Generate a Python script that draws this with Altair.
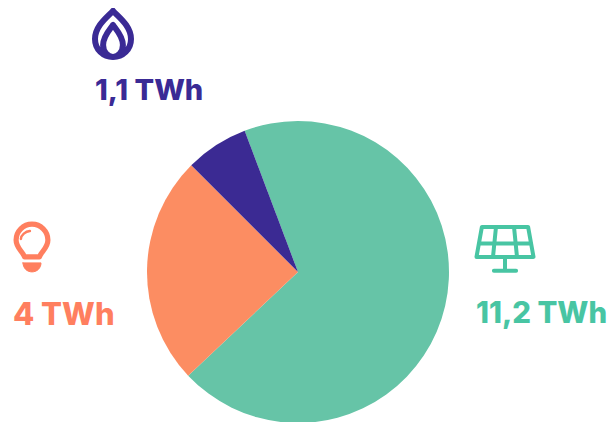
import altair as alt
import pandas as pd
import math

sources = ["Solar", "Electricity", "Gas"]
values = [11.2, 4.0, 1.1]
slice_colors = ["#66c4a7", "#fc8d62", "#3b2a93"]
labels = ["11,2 TWh", "4 TWh", "1,1 TWh"]
label_colors = ["#48c5a3", "#ff7f5f", "#3a2a95"]

drop_path = ("M0,-0.74 C-0.15,-0.56 -0.6,-0.25 -0.6,0.2 C-0.6,0.55 -0.33,0.8 0,0.8 "
             "C0.33,0.8 0.6,0.55 0.6,0.2 C0.6,-0.25 0.15,-0.56 0,-0.74 Z "
             "M0,-0.27 C-0.1,-0.12 -0.33,0.1 -0.33,0.4 C-0.33,0.62 -0.18,0.8 0,0.8 "
             "C0.18,0.8 0.33,0.62 0.33,0.4 C0.33,0.1 0.1,-0.12 0,-0.27 Z")
bulb_path = ("M-0.25,0.23 C-0.3,0.05 -0.53,-0.05 -0.53,-0.33 A0.53,0.53 0 1 1 0.53,-0.33 "
             "C0.53,-0.05 0.3,0.05 0.25,0.23 Z")
bulb_glint = "M-0.37,-0.37 C-0.36,-0.5 -0.22,-0.62 -0.07,-0.63"
bulb_cap = "M-0.3,0.43 H0.3 C0.3,0.62 0.15,0.73 0,0.73 C-0.15,0.73 -0.3,0.62 -0.3,0.43 Z"
panel_path = ("M-0.77,-0.77 H0.77 L0.95,0.23 H-0.95 Z M-0.86,-0.22 H0.86 "
              "M-0.3,-0.77 L-0.4,0.23 M0.3,-0.77 L0.4,0.23 M0,0.23 V0.69 M-0.37,0.69 H0.37")

start = math.radians(339.3)
df = pd.DataFrame({"source": sources, "value": values, "order": [0, 1, 2]})

pie = alt.Chart(df).mark_arc(outerRadius=151, stroke=None).encode(
    theta=alt.Theta("value:Q", stack=True,
                    scale=alt.Scale(range=[start, start + 2 * math.pi])),
    order=alt.Order("order:Q"),
    color=alt.Color("source:N", legend=None,
                    scale=alt.Scale(domain=sources, range=slice_colors)),
    x=alt.value(290), y=alt.value(264),
)

base = alt.Chart(pd.DataFrame({"a": [0]}))


def icon(path, color, cx, cy, sw, filled=False, cap="round"):
    kw = dict(shape=path, size=3600, strokeWidth=sw, strokeCap=cap, strokeJoin="round", opacity=1)
    if filled:
        kw.update(filled=True, fill=color, stroke=color)
    else:
        kw.update(filled=False, stroke=color)
    return base.mark_point(**kw).encode(x=alt.value(cx - 8), y=alt.value(cy - 8))


def label(text, color, x, y, size):
    return base.mark_text(text=text, color=color, font="Inter", fontSize=size, fontWeight=800,
                          align="left", baseline="alphabetic").encode(
        x=alt.value(x - 8), y=alt.value(y - 8))


chart = alt.layer(
    pie,
    icon(drop_path, label_colors[2], 113, 33, 6),
    icon(bulb_path, label_colors[1], 32, 250, 5.2),
    icon(bulb_glint, label_colors[1], 32, 250, 2.5),
    icon(bulb_cap, label_colors[1], 32, 250, 1, filled=True),
    icon(panel_path, label_colors[0], 505, 250, 4),
    label(labels[2], label_colors[2], 95, 100, 29),
    label(labels[1], label_colors[1], 13, 325, 31),
    label(labels[0], label_colors[0], 476, 323, 29.4),
).properties(width=600, height=414, padding=0, background="#ffffff",
             autosize=alt.AutoSizeParams(type="none")).configure_view(stroke=None)

chart.save("out.html", embed_options={"renderer": "svg", "actions": False})
